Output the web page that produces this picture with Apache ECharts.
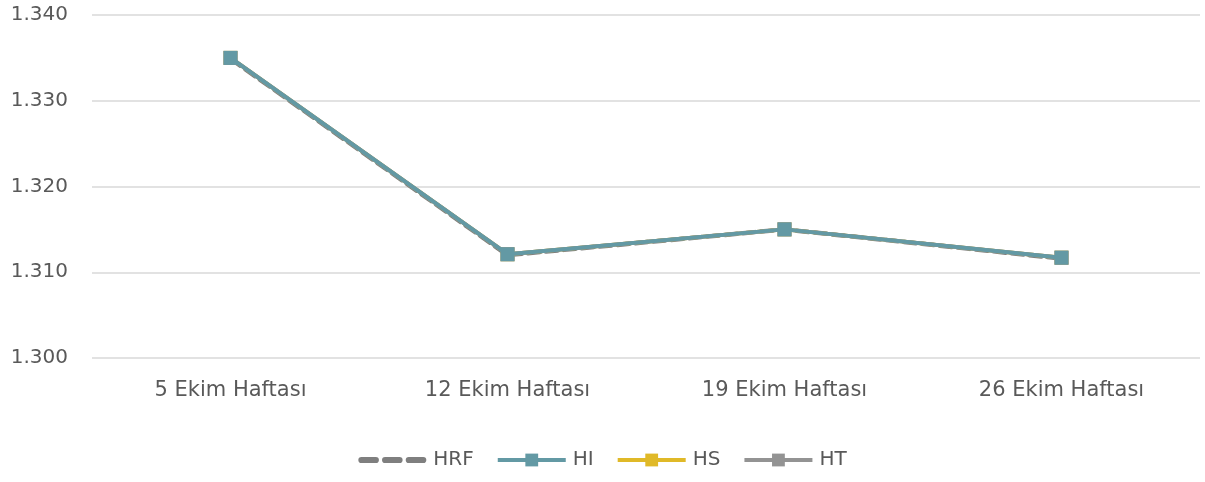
<!DOCTYPE html>
<html>
<head>
<meta charset="utf-8">
<script src="https://cdn.jsdelivr.net/npm/echarts@6/dist/echarts.min.js"></script>
<style>
  html, body { margin: 0; padding: 0; background: #fff; }
  #chart { width: 1205px; height: 482px; }
</style>
</head>
<body>
<div id="chart"></div>
<script>
// haftalık veriler
const categories = ['5 Ekim Haftası', '12 Ekim Haftası', '19 Ekim Haftası', '26 Ekim Haftası'];
const hrf = [1.3349, 1.3120, 1.3150, 1.3116];
const hi = [1.3350, 1.3121, 1.3150, 1.3117];
const hs = [1.3350, 1.3121, 1.3150, 1.3117];
const ht = [1.3350, 1.3121, 1.3150, 1.3117];
const yTicks = [1.30, 1.31, 1.32, 1.33, 1.34];

const chart = echarts.init(document.getElementById('chart'));

const textColor = '#595959';
const fontFamily = '"DejaVu Sans", sans-serif';

// kesikli çizgi lejant simgesi
const dashIcon = 'path://M3,0h14a3,3 0 0 1 0,6h-14a3,3 0 0 1 0,-6z' +
  'M26,0h14a3,3 0 0 1 0,6h-14a3,3 0 0 1 0,-6z' +
  'M49,0h14a3,3 0 0 1 0,6h-14a3,3 0 0 1 0,-6z';

function markerSeries(name, data, color, z) {
  return {
    name: name,
    type: 'line',
    data: data,
    symbol: 'rect',
    symbolSize: 14,
    z: z,
    itemStyle: { color: color },
    lineStyle: { color: color, width: 4 }
  };
}

const option = {
  animation: false,
  grid: { left: 92, right: 5, top: 15, bottom: 124 },
  legend: {
    bottom: 7,
    left: 'center',
    itemWidth: 68,
    itemHeight: 16,
    itemGap: 22,
    lineStyle: { width: 4 },
    textStyle: { color: textColor, fontSize: 20, fontFamily: fontFamily, padding: [0, 0, 0, 2] },
    data: [
      { name: 'HRF', icon: dashIcon, itemStyle: { color: '#7f7f7f' } },
      'HI', 'HS', 'HT'
    ]
  },
  xAxis: {
    type: 'category',
    data: categories,
    boundaryGap: true,
    axisLine: { show: false },
    axisTick: { show: false },
    axisLabel: { color: textColor, fontSize: 21, fontFamily: fontFamily, margin: 22 }
  },
  yAxis: {
    type: 'value',
    min: yTicks[0],
    max: yTicks[yTicks.length - 1],
    interval: 0.01,
    axisLine: { show: false },
    axisTick: { show: false },
    splitLine: { lineStyle: { color: '#d9d9d9', width: 1.5 } },
    axisLabel: {
      color: textColor, fontSize: 20, fontFamily: fontFamily, margin: 24,
      padding: [4, 0, 0, 0],
      formatter: v => v.toFixed(3)
    }
  },
  series: [
    {
      name: 'HRF',
      type: 'line',
      data: hrf,
      symbol: 'none',
      z: 1,
      itemStyle: { color: '#7f7f7f' },
      lineStyle: { color: '#7f7f7f', width: 4.5, type: [12, 6], cap: 'round' }
    },
    markerSeries('HS', hs, '#e0b928', 2),
    markerSeries('HT', ht, '#939393', 3),
    markerSeries('HI', hi, '#6399a4', 4)
  ]
};

chart.setOption(option);

window.addEventListener('resize', () => {
  chart.resize();
});
</script>
</body>
</html>
